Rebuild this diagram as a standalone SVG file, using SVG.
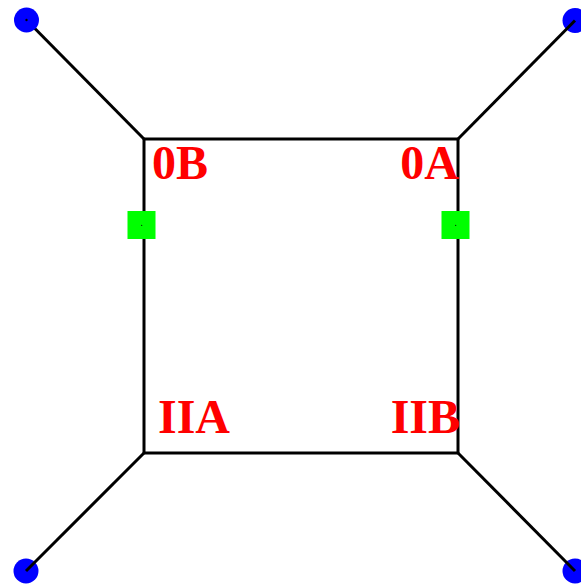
<svg xmlns="http://www.w3.org/2000/svg" width="581" height="585" viewBox="0 0 581 585">
<style>
.edge{stroke:#000;stroke-width:3;fill:none;stroke-linecap:butt}
.dot{fill:#0000ff}
.pin{fill:#000}
.port{fill:#00ff00}
.lbl{font-family:"Liberation Serif",serif;font-weight:bold;font-size:48px;fill:#ff0000}
</style>
<rect width="581" height="585" fill="#fff"/>
<g id="connectors">
<line class="edge" x1="26.5" y1="20" x2="144" y2="139"/>
</g>
<g id="n-tl"><circle class="dot" cx="26.5" cy="20" r="12.5"/><circle class="pin" cx="26.5" cy="20" r="1.2"/></g>
<g id="n-tr"><circle class="dot" cx="575" cy="20.5" r="12.5"/></g>
<g id="n-bl"><circle class="dot" cx="26" cy="571" r="12.5"/></g>
<g id="n-br"><circle class="dot" cx="575" cy="571" r="12.5"/></g>
<g id="connectors2">
<line class="edge" x1="575" y1="20.5" x2="458" y2="139"/>
<line class="edge" x1="26" y1="571" x2="144" y2="453"/>
<line class="edge" x1="575" y1="571" x2="458" y2="453"/>
<rect class="edge" x="144" y="139" width="314" height="314"/>
</g>
<g id="p-left"><rect class="port" x="127.5" y="211" width="28" height="28"/><circle class="pin" cx="141.7" cy="225.3" r="0.6"/></g>
<g id="p-right"><rect class="port" x="441.5" y="211" width="28" height="28"/><circle class="pin" cx="455.7" cy="225.3" r="0.6"/></g>
<g id="labels">
<text class="lbl" x="152" y="179">0B</text>
<text class="lbl" x="459" y="179" text-anchor="end">0A</text>
<text class="lbl" x="158" y="433">IIA</text>
<text class="lbl" x="460" y="433" text-anchor="end">IIB</text>
</g>
</svg>
